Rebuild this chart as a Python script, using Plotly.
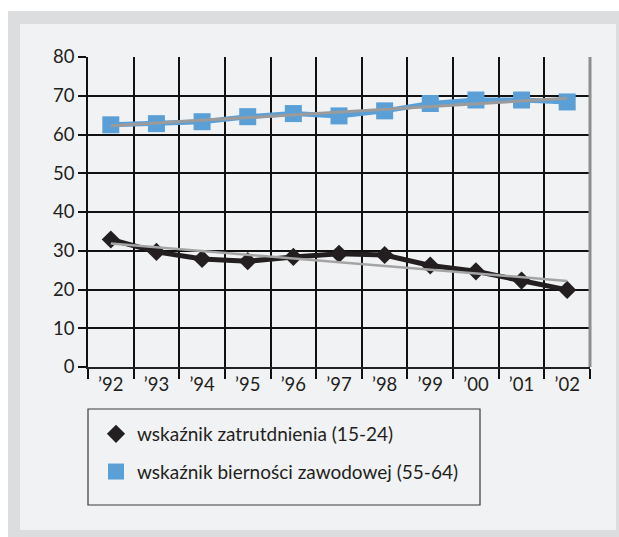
import numpy as np
import plotly.graph_objects as go

# Data
years = ["’92", "’93", "’94", "’95", "’96", "’97", "’98", "’99", "’00", "’01", "’02"]
employment_15_24 = [32.9, 29.7, 27.9, 27.3, 28.4, 29.2, 28.9, 26.2, 24.7, 22.3, 19.9]
inactivity_55_64 = [62.5, 62.8, 63.3, 64.6, 65.4, 64.8, 66.1, 68.0, 68.9, 68.9, 68.4]
y_ticks = [0, 10, 20, 30, 40, 50, 60, 70, 80]

name_emp = "wskaźnik zatrutdnienia (15-24)"
name_inact = "wskaźnik bierności zawodowej (55-64)"

BLACK = "#231f20"
BLUE = "#5aa0d7"
TREND = "#9b9b9b"
FONT = "Lato, 'Open Sans', sans-serif"

W, H = 619, 537
L, R, T, B = 88, 29, 57, 170
PW, PH = W - L - R, H - T - B


def px_x(x):
    return (x - L) / PW


def px_y(y):
    return (H - B - y) / PH


def trend(values):
    idx = np.arange(len(values))
    slope, icpt = np.polyfit(idx, values, 1)
    return [icpt, icpt + slope * (len(values) - 1)]


fig = go.Figure()

# Series lines (no legend)
fig.add_trace(go.Scatter(x=years, y=inactivity_55_64, mode="lines",
                         line=dict(color=BLUE, width=5), showlegend=False,
                         hoverinfo="skip"))
fig.add_trace(go.Scatter(x=years, y=employment_15_24, mode="lines",
                         line=dict(color=BLACK, width=5), showlegend=False,
                         hoverinfo="skip"))

# Series markers (legend entries)
fig.add_trace(go.Scatter(x=years, y=employment_15_24, mode="markers", name=name_emp,
                         legendgroup="a",
                         marker=dict(symbol="diamond", size=14, color=BLACK)))
fig.add_trace(go.Scatter(x=years, y=inactivity_55_64, mode="markers", name=name_inact,
                         legendgroup="b",
                         marker=dict(symbol="square", size=17, color=BLUE)))

# Linear trend lines
fig.add_trace(go.Scatter(x=[years[0], years[-1]], y=trend(inactivity_55_64), mode="lines",
                         line=dict(color=TREND, width=3), showlegend=False))
fig.add_trace(go.Scatter(x=[years[0], years[-1]], y=trend(employment_15_24), mode="lines",
                         line=dict(color="#a4a4a4", width=2.5), showlegend=False))

shapes = [
    # outer grey frame
    dict(type="rect", xref="paper", yref="paper", layer="below",
         x0=px_x(8), x1=px_x(619), y0=px_y(537), y1=px_y(11),
         fillcolor="#dcdddf", line=dict(width=0)),
    # inner light panel
    dict(type="rect", xref="paper", yref="paper", layer="below",
         x0=px_x(20), x1=px_x(616), y0=px_y(530), y1=px_y(24),
         fillcolor="#f1f2f4", line=dict(width=0)),
    # right border of plot area
    dict(type="line", xref="paper", yref="paper", layer="above",
         x0=1, x1=1, y0=0, y1=1, line=dict(color="#8e8e8e", width=3)),
    # legend box
    dict(type="rect", xref="paper", yref="paper", layer="above",
         x0=px_x(88), x1=px_x(480), y0=px_y(505), y1=px_y(409),
         line=dict(color="#3a3a3a", width=1.2)),
]

fig.update_layout(
    width=W, height=H,
    margin=dict(l=L, r=R, t=T, b=B, pad=0),
    paper_bgcolor="#ffffff",
    plot_bgcolor="#f1f2f4",
    font=dict(family=FONT, color=BLACK, size=18.5),
    shapes=shapes,
    showlegend=True,
    legend=dict(x=px_x(95), y=px_y(415), xanchor="left", yanchor="top",
                bgcolor="rgba(0,0,0,0)", borderwidth=0,
                itemwidth=32,
                traceorder="grouped", tracegroupgap=10,
                font=dict(family=FONT, size=19, color=BLACK)),
)

fig.update_xaxes(
    type="category", range=[-0.5, 10.5], tickson="boundaries",
    showgrid=True, gridcolor="#111111", gridwidth=1.5,
    showline=True, linecolor="#222222", linewidth=2,
    ticks="outside", ticklen=10, tickwidth=1.5, tickcolor="#111111",
    tickfont=dict(size=18.5, color=BLACK), fixedrange=True,
)
fig.update_yaxes(
    range=[0, 80], tickvals=y_ticks, ticktext=[str(v) for v in y_ticks],
    showgrid=True, gridcolor="#111111", gridwidth=1.5, zeroline=False,
    showline=True, linecolor="#111111", linewidth=1.5,
    ticks="outside", ticklen=8, tickwidth=1.5, tickcolor="#111111",
    tickfont=dict(size=18.5, color=BLACK), fixedrange=True,
)

fig.write_html("out.html")
